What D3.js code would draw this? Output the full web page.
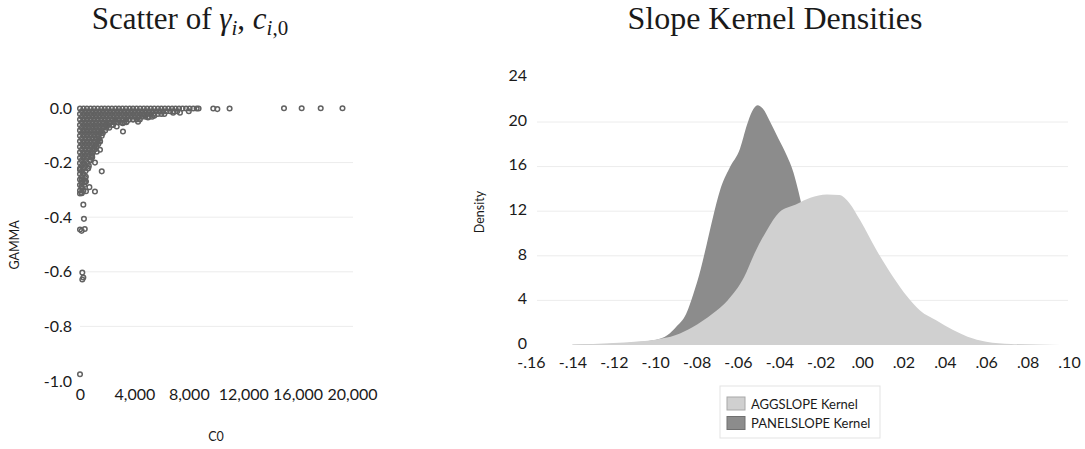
<!DOCTYPE html>
<html lang="en">
<head>
<meta charset="UTF-8">
<title>Scatter and Slope Kernel Densities</title>
<script src="https://d3js.org/d3.v7.min.js"></script>
<style>
  body { margin: 0; background: #fff; }
  svg text { font-family: Lato, 'Open Sans', sans-serif; fill: #1a1a1a; }
  .title { font-family: 'Liberation Serif', 'DejaVu Serif', serif; }
</style>
</head>
<body>
<svg id="chart" width="1085" height="449"></svg>
<script>
// ---- left panel: scatter of GAMMA against C0 ----
// dense cloud, read row by row (gamma level -> c0 positions)
const clusterGamma = [-0.002, -0.012, -0.022, -0.032, -0.042, -0.052, -0.062, -0.072,
  -0.082, -0.092, -0.102, -0.112, -0.122, -0.132, -0.142, -0.152, -0.162, -0.172,
  -0.182, -0.192, -0.202, -0.212, -0.222, -0.232, -0.242, -0.252, -0.262, -0.272,
  -0.282, -0.292, -0.302, -0.312];
const clusterC0 = [
  [0, 260, 510, 780, 1040, 1300, 1570, 1820, 2080, 2340, 2610, 2860, 3120, 3380, 3650, 3900, 4160, 4420, 4690, 4940, 5200, 5460, 5730, 5980, 6240, 6500, 6770, 7020, 7280, 7540, 7800, 8060, 8330, 8580, 8720],
  [130, 390, 650, 910, 1170, 1430, 1690, 1950, 2210, 2470, 2730, 2990, 3250, 3510, 3770, 4030, 4290, 4550, 4810, 5070, 5330, 5590, 5850, 6110, 6370, 6630, 6890, 7150],
  [0, 260, 520, 780, 1040, 1300, 1560, 1820, 2080, 2340, 2600, 2860, 3120, 3380, 3640, 3900, 4160, 4420, 4680, 4940, 5200, 5460, 5720, 5980, 6200],
  [130, 390, 650, 910, 1170, 1430, 1690, 1950, 2210, 2470, 2730, 2990, 3250, 3510, 3770, 4030, 4290, 4550, 4810, 5070, 5300],
  [0, 260, 520, 780, 1040, 1300, 1560, 1820, 2080, 2340, 2600, 2860, 3120, 3380, 3640, 3900, 4160, 4400],
  [130, 390, 650, 910, 1170, 1430, 1690, 1950, 2210, 2470, 2730, 2990, 3250, 3400],
  [0, 260, 520, 780, 1040, 1300, 1560, 1820, 2080, 2340, 2430],
  [130, 390, 650, 910, 1170, 1430, 1690, 1950, 2150],
  [0, 260, 520, 780, 1040, 1300, 1560, 1850],
  [130, 390, 650, 910, 1170, 1430, 1680],
  [0, 260, 520, 780, 1040, 1300, 1600],
  [130, 390, 650, 910, 1170, 1400],
  [0, 260, 520, 780, 1040, 1300, 1480],
  [130, 390, 650, 910, 1170, 1350],
  [0, 260, 520, 780, 1040, 1200],
  [130, 390, 650, 910, 1080],
  [0, 260, 520, 780, 950],
  [130, 390, 650, 890],
  [0, 260, 520, 830],
  [130, 390, 770],
  [0, 260, 520],
  [130, 390, 650],
  [0, 260, 590],
  [130, 400],
  [0, 260],
  [130, 430],
  [0, 260],
  [130, 350],
  [0, 310],
  [130],
  [0, 250],
  [130]
];
// separate points around the cloud, [c0, gamma]
const scatterOutliers = [
  [9800, -0.002], [10100, -0.004], [11000, -0.002], [15000, -0.001], [16300, -0.001],
  [17700, -0.001], [19300, -0.001], [3160, -0.086], [3140, -0.056], [3430, -0.050],
  [4270, -0.050], [4700, -0.026], [5460, -0.028], [6850, -0.017], [7350, -0.017],
  [8000, -0.012], [5000, -0.035], [3900, -0.042], [2700, -0.068], [2200, -0.056],
  [1960, -0.062], [2570, -0.050], [1600, -0.232], [1100, -0.200], [1100, -0.306],
  [690, -0.290], [245, -0.354], [290, -0.406], [350, -0.443], [0, -0.445],
  [120, -0.450], [0, -0.226], [120, -0.263], [370, -0.257], [440, -0.269],
  [120, -0.287], [120, -0.310], [0, -0.313], [440, -0.305], [610, -0.220],
  [735, -0.190], [1230, -0.160], [1470, -0.153], [1470, -0.123], [1350, -0.105],
  [1600, -0.092], [1200, -0.140], [900, -0.180], [370, -0.270], [170, -0.603],
  [245, -0.621], [170, -0.628], [0, -0.975]
];
const gammaTicks = [0, -0.2, -0.4, -0.6, -0.8, -1.0];
const c0Ticks = [0, 4000, 8000, 12000, 16000, 20000];

// ---- right panel: kernel densities ----
const aggSlopeX = [-0.140, -0.130, -0.120, -0.110, -0.100, -0.090, -0.082, -0.072, -0.065,
  -0.057, -0.052, -0.046, -0.040, -0.032, -0.025, -0.017, -0.011, -0.006, -0.001,
  0.007, 0.015, 0.022, 0.028, 0.036, 0.044, 0.051, 0.060, 0.072, 0.085, 0.096];
const aggSlopeDensity = [0.03, 0.08, 0.18, 0.30, 0.48, 0.90, 1.6, 2.85, 4.0,
  6.1, 8.2, 10.3, 11.9, 12.6, 13.2, 13.5, 13.45, 12.7, 11.2,
  8.5, 6.1, 4.3, 3.1, 2.2, 1.35, 0.75, 0.30, 0.10, 0.04, 0.0];
const panelSlopeX = [-0.140, -0.120, -0.100, -0.094, -0.090, -0.085, -0.0815, -0.078, -0.075,
  -0.072, -0.0686, -0.064, -0.059, -0.0557, -0.0533, -0.0505, -0.048, -0.0444, -0.0404,
  -0.0364, -0.0332, -0.0307, -0.029, -0.025, -0.018, -0.010, 0.000, 0.015, 0.030];
const panelSlopeDensity = [0.02, 0.12, 0.45, 0.9, 1.6, 2.8, 4.6, 6.8, 9.1,
  11.5, 13.9, 15.9, 17.6, 19.7, 20.9, 21.5, 21.2, 20.0, 18.5,
  17.0, 15.5, 13.75, 12.4, 10.0, 6.5, 3.5, 1.2, 0.2, 0.0];
const densityTicks = [0, 4, 8, 12, 16, 20, 24];
const slopeTicks = [-0.16, -0.14, -0.12, -0.10, -0.08, -0.06, -0.04, -0.02, 0, 0.02, 0.04, 0.06, 0.08, 0.10];
const legendLabels = ['AGGSLOPE Kernel', 'PANELSLOPE Kernel'];

const svg = d3.select('#chart');

// ================= left chart =================
const xC = d3.scaleLinear().domain([0, 20000]).range([80, 352]);
const yG = d3.scaleLinear().domain([-1, 0]).range([381, 108]);

svg.append('g').selectAll('line')
  .data(gammaTicks.filter(d => d < 0 && d > -1))
  .enter().append('line')
  .attr('x1', 80).attr('x2', 353)
  .attr('y1', d => yG(d)).attr('y2', d => yG(d))
  .attr('stroke', '#ececec');

const yAxisL = svg.append('g').attr('transform', 'translate(80,0)')
  .call(d3.axisLeft(yG).tickValues(gammaTicks).tickSize(0).tickPadding(8)
    .tickFormat(d => d.toFixed(1)));
yAxisL.select('.domain').remove();
yAxisL.selectAll('text').style('font-size', '16px').style('font-family', 'Lato');

const xAxisL = svg.append('g').attr('transform', 'translate(0,381)')
  .call(d3.axisBottom(xC).tickValues(c0Ticks).tickSize(0).tickPadding(8)
    .tickFormat(d3.format(',')));
xAxisL.select('.domain').remove();
xAxisL.selectAll('text').style('font-size', '16px').style('font-family', 'Lato');

const scatterPoints = [];
clusterC0.forEach((row, i) => row.forEach(c => scatterPoints.push([c, clusterGamma[i]])));
scatterOutliers.forEach(p => scatterPoints.push(p));

svg.append('g').selectAll('circle')
  .data(scatterPoints)
  .enter().append('circle')
  .attr('cx', d => xC(d[0]))
  .attr('cy', d => yG(d[1]))
  .attr('r', 2.3)
  .attr('fill', 'none')
  .attr('stroke', '#626262')
  .attr('stroke-width', 1.5);

svg.append('text').attr('x', 216).attr('y', 441)
  .attr('text-anchor', 'middle').style('font-size', '12.5px').text('C0');
svg.append('text').attr('transform', 'translate(19,245) rotate(-90)')
  .attr('text-anchor', 'middle').style('font-size', '12.5px').text('GAMMA');

const t1 = svg.append('text').attr('class', 'title')
  .attr('x', 190).attr('y', 29).attr('text-anchor', 'middle')
  .style('font-size', '31px');
t1.append('tspan').text('Scatter of ');
t1.append('tspan').style('font-style', 'italic').text('γ');
t1.append('tspan').attr('dy', 6).style('font-size', '21px').style('font-style', 'italic').text('i');
t1.append('tspan').attr('dy', -6).text(', ');
t1.append('tspan').style('font-style', 'italic').text('c');
t1.append('tspan').attr('dy', 6).style('font-size', '21px').style('font-style', 'italic').text('i');
t1.append('tspan').style('font-size', '21px').text(',0');

// ================= right chart =================
const xS = d3.scaleLinear().domain([-0.16, 0.10]).range([531, 1069]);
const yD = d3.scaleLinear().domain([0, 24]).range([345, 77.4]);

svg.append('g').selectAll('line')
  .data(densityTicks.filter(d => d > 0 && d < 24))
  .enter().append('line')
  .attr('x1', 537).attr('x2', 1068)
  .attr('y1', d => yD(d)).attr('y2', d => yD(d))
  .attr('stroke', '#ececec');

const area = d3.area()
  .x(d => xS(d[0]))
  .y0(yD(0))
  .y1(d => yD(d[1]))
  .curve(d3.curveMonotoneX);

svg.append('path')
  .datum(panelSlopeX.map((x, i) => [x, panelSlopeDensity[i]]))
  .attr('d', area)
  .attr('fill', '#8c8c8c');

svg.append('path')
  .datum(aggSlopeX.map((x, i) => [x, aggSlopeDensity[i]]))
  .attr('d', area)
  .attr('fill', '#d0d0d0');

const yAxisR = svg.append('g').attr('transform', 'translate(537,0)')
  .call(d3.axisLeft(yD).tickValues(densityTicks).tickSize(0).tickPadding(10));
yAxisR.select('.domain').remove();
yAxisR.selectAll('text').attr('dy', '0.2em')
  .style('font-size', '16px').style('font-family', 'Lato');

const xAxisR = svg.append('g').attr('transform', 'translate(0,345)')
  .call(d3.axisBottom(xS).tickValues(slopeTicks).tickSize(0).tickPadding(12)
    .tickFormat(d => d3.format('.2f')(d).replace('−', '-').replace('0.', '.')));
xAxisR.select('.domain').remove();
xAxisR.selectAll('text').style('font-size', '16px').style('font-family', 'Lato');

svg.append('text').attr('transform', 'translate(484,212) rotate(-90)')
  .attr('text-anchor', 'middle').style('font-size', '12.5px').text('Density');

svg.append('text').attr('class', 'title')
  .attr('x', 775).attr('y', 29).attr('text-anchor', 'middle')
  .style('font-size', '32px').text('Slope Kernel Densities');

// legend
const legend = svg.append('g');
legend.append('rect')
  .attr('x', 720).attr('y', 386).attr('width', 160).attr('height', 52)
  .attr('fill', '#fff').attr('stroke', '#e3e3e3');
const legendFill = ['#d0d0d0', '#8c8c8c'];
const legendStroke = ['#a8a8a8', '#707070'];
legendLabels.forEach((lab, i) => {
  legend.append('rect')
    .attr('x', 727).attr('y', 397 + i * 19.5).attr('width', 18).attr('height', 13)
    .attr('fill', legendFill[i]).attr('stroke', legendStroke[i]);
  legend.append('text')
    .attr('x', 751).attr('y', 404 + i * 19.5).attr('dy', '0.35em')
    .style('font-size', '13px').text(lab);
});
</script>
</body>
</html>
